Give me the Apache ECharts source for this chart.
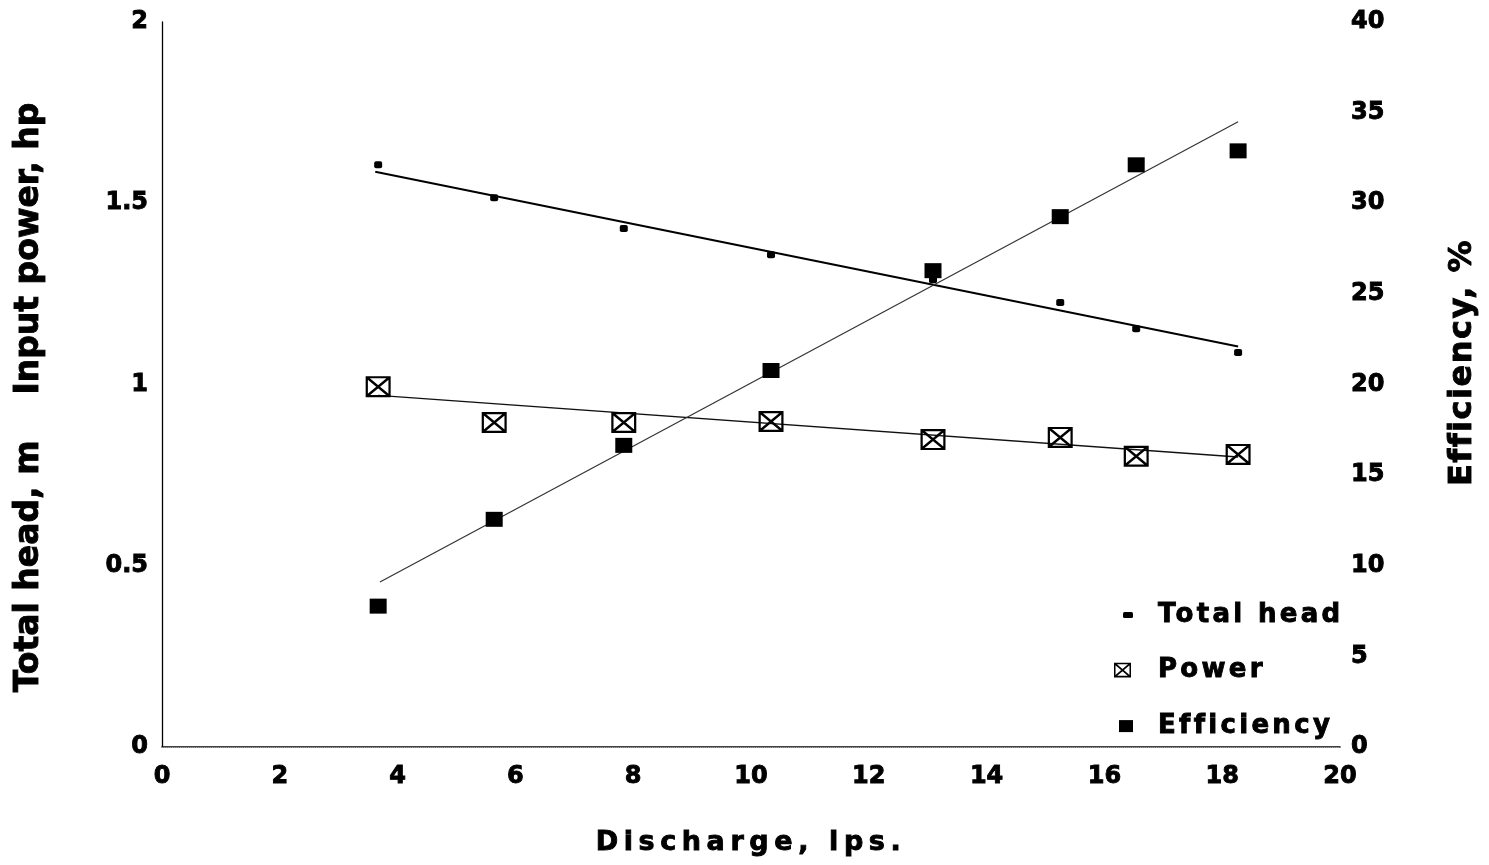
<!DOCTYPE html>
<html>
<head>
<meta charset="utf-8">
<script src="https://cdn.jsdelivr.net/npm/echarts@6/dist/echarts.min.js"></script>
<style>
html,body{margin:0;padding:0;background:#fff;}
#chart{width:1489px;height:865px;}
</style>
</head>
<body>
<div id="chart"></div>
<script>
// wide, letter-spaced bold lettering of the original figure
(function(){
  var P = window.CanvasRenderingContext2D && CanvasRenderingContext2D.prototype;
  if (!P || !('letterSpacing' in P)) return;
  var SP = {27:'5.6px', 26:'3.3px', 32:'1.5px'};
  function apply(ctx){
    var m = /(\d+(?:\.\d+)?)px/.exec(ctx.font);
    var v = m && SP[Math.round(parseFloat(m[1]))];
    ctx.letterSpacing = v || '0px';
  }
  var ft = P.fillText, st = P.strokeText, mt = P.measureText;
  P.fillText = function(){ apply(this); return ft.apply(this, arguments); };
  P.strokeText = function(){ apply(this); return st.apply(this, arguments); };
  P.measureText = function(){ apply(this); return mt.apply(this, arguments); };
})();

// ---- data ----
const discharge  = [3.67, 5.64, 7.84, 10.34, 13.09, 15.25, 16.54, 18.27];   // lps
const totalHead  = [1.606, 1.515, 1.430, 1.358, 1.289, 1.226, 1.154, 1.088]; // m
const inputPower = [0.994, 0.895, 0.895, 0.898, 0.848, 0.854, 0.802, 0.807]; // hp
const efficiency = [7.77, 12.56, 16.64, 20.77, 26.28, 29.26, 32.12, 32.89];  // %
// fitted straight lines drawn in the figure (end points)
const headFitX = [3.62, 18.27],  headFitY = [1.587, 1.105];
const powerFitX = [3.67, 18.27], powerFitY = [0.97, 0.80];
const effFitX = [3.70, 18.27],   effFitY = [9.1, 34.5];
const seriesNames = ['Total head', 'Power', 'Efficiency'];

const FONT = 'DejaVu Sans';
const pairs = (xs, ys) => xs.map((x, i) => [x, ys[i]]);
const crossBox = 'path://M0 0L28 0L28 2.5L0 2.5Z M0 21.5L28 21.5L28 24L0 24Z M0 0L2.5 0L2.5 24L0 24Z M25.5 0L28 0L28 24L25.5 24Z M0 0L2 0L28 22L28 24L26 24L0 2Z M26 0L28 0L28 2L2 24L0 24L0 22Z';

const heavy = {color:'#000', fontFamily:FONT, fontWeight:'bold', textBorderColor:'#000', textBorderWidth:0.9};
const tick = Object.assign({fontSize:24}, heavy);
const legendText = (pad) => Object.assign({fontSize:26, padding:[0,0,0,pad]}, heavy);

const chart = echarts.init(document.getElementById('chart'), null, {renderer:'canvas'});
chart.setOption({
  animation:false,
  backgroundColor:'#fff',
  grid:{left:162, right:149, top:22, bottom:117, containLabel:false},
  xAxis:[{
    type:'value', min:0, max:20, interval:2, position:'bottom',
    name:'Discharge, lps.', nameLocation:'middle', nameGap:80,
    nameTextStyle:Object.assign({fontSize:27}, heavy),
    axisLine:{show:true, lineStyle:{color:'#000', width:1.5}},
    axisTick:{show:false}, splitLine:{show:false},
    axisLabel:Object.assign({margin:18}, tick)
  },{
    type:'value', min:0, max:20, interval:2, position:'top',
    axisLine:{show:true, lineStyle:{color:'#999', width:1, type:'dotted'}},
    axisTick:{show:false}, splitLine:{show:false}, axisLabel:{show:false}
  }],
  yAxis:[{
    type:'value', min:0, max:2, interval:0.5, position:'left',
    name:'Total head, m    Input power, hp', nameLocation:'middle', nameGap:116, nameRotate:90,
    nameTextStyle:Object.assign({fontSize:33, padding:[0,26,0,0]}, heavy),
    axisLine:{show:true, lineStyle:{color:'#222', width:1, type:[8,3]}},
    axisTick:{show:false}, splitLine:{show:false},
    axisLabel:Object.assign({margin:14}, tick)
  },{
    type:'value', min:0, max:40, interval:5, position:'right',
    name:'Efficiency, %', nameLocation:'middle', nameGap:106, nameRotate:90,
    nameTextStyle:Object.assign({fontSize:32, padding:[0,0,0,44]}, heavy),
    axisLine:{show:true, lineStyle:{color:'#000', width:1.3}},
    axisTick:{show:false}, splitLine:{show:false},
    axisLabel:Object.assign({margin:11}, tick)
  }],
  legend:[
    {data:[{name:seriesNames[0], icon:'roundRect'}], left:1123, top:600, itemWidth:10, itemHeight:6,
     padding:0, selectedMode:false, textStyle:legendText(20)},
    {data:[{name:seriesNames[1], icon:crossBox}], left:1114, top:655, itemWidth:17, itemHeight:15,
     padding:0, selectedMode:false, textStyle:legendText(22)},
    {data:[{name:seriesNames[2], icon:'rect'}], left:1119, top:711, itemWidth:14, itemHeight:12,
     padding:0, selectedMode:false, textStyle:legendText(20)}
  ],
  series:[
    {name:'Total head fit', type:'line', xAxisIndex:0, yAxisIndex:0, data:pairs(headFitX, headFitY),
     symbol:'none', silent:true, lineStyle:{color:'#000', width:2}, z:2},
    {name:'Power fit', type:'line', xAxisIndex:0, yAxisIndex:0, data:pairs(powerFitX, powerFitY),
     symbol:'none', silent:true, lineStyle:{color:'#111', width:1.4}, z:2},
    {name:'Efficiency fit', type:'line', xAxisIndex:0, yAxisIndex:1, data:pairs(effFitX, effFitY),
     symbol:'none', silent:true, lineStyle:{color:'#333', width:1.2}, z:2},
    {name:seriesNames[0], type:'scatter', xAxisIndex:0, yAxisIndex:0, data:pairs(discharge, totalHead),
     symbol:'roundRect', symbolSize:[8,7], itemStyle:{color:'#000', opacity:1}, z:4},
    {name:seriesNames[1], type:'scatter', xAxisIndex:0, yAxisIndex:0, data:pairs(discharge, inputPower),
     symbol:crossBox, symbolSize:[25,21], itemStyle:{color:'#000', opacity:1}, z:4},
    {name:seriesNames[2], type:'scatter', xAxisIndex:0, yAxisIndex:1, data:pairs(discharge, efficiency),
     symbol:'rect', symbolSize:[17,15], itemStyle:{color:'#000', opacity:1}, z:5}
  ]
});
</script>
</body>
</html>
